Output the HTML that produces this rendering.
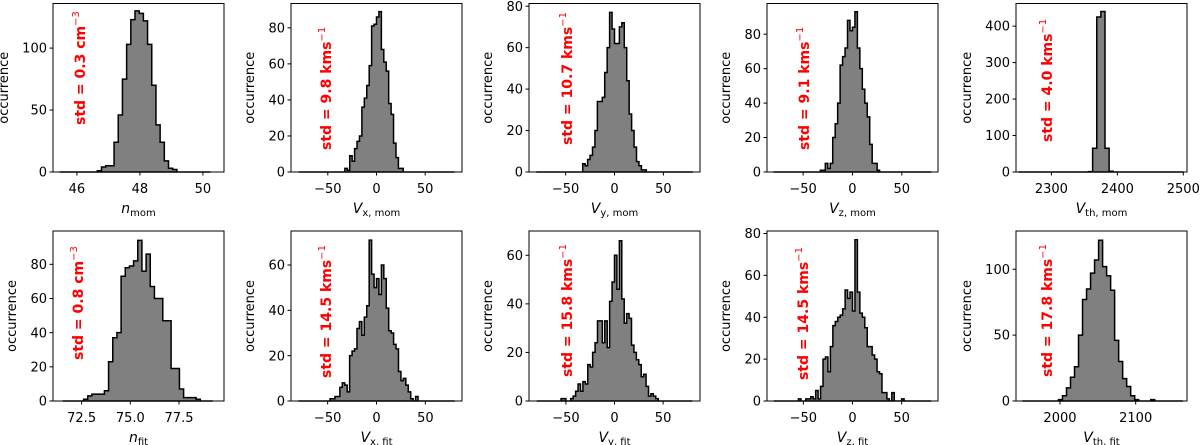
<!DOCTYPE html>
<html><head><meta charset="utf-8">
<style>
html,body{margin:0;padding:0;background:#fff;}
svg{display:block;font-family:"DejaVu Sans","Liberation Sans",sans-serif;}
</style></head>
<body>
<svg id="fig" width="1200" height="445" viewBox="0 0 1200 445" xmlns="http://www.w3.org/2000/svg"></svg>
<script>
// ---- data per panel ----
const p1Counts = [0,0,0,0,0,0,0,0,0,1,4,5,5,24,46,75,103,123,130,128,122,103,70,38,24,9,3,2,0,0,0,0,0,0,0,0];
const p2Counts = [0,0,0,0,0,0,0,0,0,0,0,0,0,0,0,0,0,0,0,2,1,9,6,13,17,20,36,41,48,59,81,82,86,89,68,61,56,38,32,16,8,2,2,0,0,0,0,0,0,0,0,0,0,0,0,0,0,0,0,0,0,0,0,0];
const p3Counts = [0,0,0,0,0,0,0,0,0,0,0,0,0,0,0,0,0,0,0,4,3,6,8,12,20,34,34,36,48,60,77,69,62,62,70,72,60,44,28,20,12,5,3,1,1,0,0,0,0,0,0,0,0,0,0,0,0,0,0,0,0,0,0,0];
const p4Counts = [0,0,0,0,0,0,0,0,0,0,0,0,0,0,0,0,0,0,0,1,1,5,2,5,20,28,40,62,67,72,88,82,84,93,72,60,48,40,32,16,5,5,1,0,0,0,0,0,0,0,0,0,0,0,0,0,0,0,0,0,0,0,0,0];
const p5Counts = [0,0,0,0,0,0,0,0,0,0,0,0,0,0,0,0,0,1,65,425,440,65,2,0,0,0,0,0,0,0,0,0,0,0,0,0,0,0,0,0];
const p6Counts = [0,0,0,0,0,1,3,4,4,4,6,23,37,40,73,78,79,82,94,76,86,67,60,60,47,47,19,19,7,2,2,2,1,0,0,0];
const p7Counts = [0,0,0,0,0,0,0,0,0,0,0,0,0,1,1,2,2,6,8,7,4,20,22,23,32,35,29,37,42,71,56,50,54,47,60,54,41,31,30,25,23,13,9,10,7,4,1,0,2,0,0,0,0,0,0,0,0,0,0,0,0,0,0,0];
const p8Counts = [0,0,0,0,0,0,0,0,0,0,1,1,0,0,1,2,4,7,4,8,7,15,14,20,24,33,33,24,33,22,41,49,60,46,66,42,32,36,34,23,20,17,15,10,11,6,2,3,2,1,0,0,0,0,0,0,0,0,0,0,0,0,0,0];
const p9Counts = [0,0,0,0,0,0,0,0,0,0,1,0,0,1,1,2,1,5,1,7,20,21,14,26,36,38,40,41,44,53,49,52,43,77,52,42,40,35,26,26,22,20,14,13,4,4,1,0,4,0,0,0,1,0,0,0,0,0,0,0,0,0,0,0];
const p10Counts = [0,0,0,0,0,0,0,0,0,1,4,10,18,26,50,77,85,97,107,122,102,95,84,46,30,17,11,4,1,0,0,0,1,0,0,0,0,0,0,0];

const binLo = [45.45, -80, -80, -80, 2250, 71.53, -80, -80, -80, 1950.3];
const binW  = [0.133, 2.5, 2.5, 2.5, 6.25, 0.214, 2.5, 2.5, 2.5, 5.3];
const xTicks = [[46,48,50],[-50,0,50],[-50,0,50],[-50,0,50],[2300,2400,2500],[72.5,75,77.5],[-50,0,50],[-50,0,50],[-50,0,50],[2000,2100]];
const xTickLabels = [["46","48","50"],["\u221250","0","50"],["\u221250","0","50"],["\u221250","0","50"],["2300","2400","2500"],["72.5","75.0","77.5"],["\u221250","0","50"],["\u221250","0","50"],["\u221250","0","50"],["2000","2100"]];
const yTicks = [[0,50,100],[0,20,40,60,80],[0,20,40,60,80],[0,20,40,60,80],[0,100,200,300,400],[0,20,40,60,80],[0,20,40,60],[0,20,40,60],[0,20,40,60,80],[0,50,100]];
const xRange = [[45.24,50.67],[-87.8,87.8],[-87.4,87.4],[-86.6,86.7],[2246.3,2505.6],[71.03,79.81],[-87.5,87.5],[-88,88],[-87,87],[1941.9,2167.8]];
const yMax = [136,93.5,81.3,97.8,462,99.5,75,70,81.2,129];
const stdLabels = ["std = 0.3 cm","std = 9.8 kms","std = 10.7 kms","std = 9.1 kms","std = 4.0 kms","std = 0.8 cm","std = 14.5 kms","std = 15.8 kms","std = 14.5 kms","std = 17.8 kms"];
const stdSup = ["\u22123","\u22121","\u22121","\u22121","\u22121","\u22123","\u22121","\u22121","\u22121","\u22121"];
const xMain = ["n","V","V","V","V","n","V","V","V","V"];
const xSub = ["mom","x, mom","y, mom","z, mom","th, mom","fit","x, fit","y, fit","z, fit","th, fit"];
const allCounts = [p1Counts,p2Counts,p3Counts,p4Counts,p5Counts,p6Counts,p7Counts,p8Counts,p9Counts,p10Counts];

// ---- layout ----
const axLeft = [53,291,529,767,1016];
const axW = 171;
const rowTop = [3.5,231];
const rowBot = [172,401];
const stdPos = [[80,125],[326,150],[567,145],[804,150],[1047,142],[78,360],[326,378],[567,377],[803,380],[1047,377]];

const NS = "http://www.w3.org/2000/svg";
const fig = document.getElementById('fig');
function mk(tag, attrs, parent){
  const e = document.createElementNS(NS, tag);
  for (const k in attrs) e.setAttribute(k, attrs[k]);
  (parent||fig).appendChild(e);
  return e;
}

for (let i=0;i<10;i++){
  const row = i<5?0:1, col = i%5;
  const L = axLeft[col], R = L+axW, T = rowTop[row], B = rowBot[row];
  const xs = v => L + (v - xRange[i][0])/(xRange[i][1]-xRange[i][0])*axW;
  const ys = v => B - v/yMax[i]*(B-T);
  const g = mk('g',{});
  
  

  const c = allCounts[i], lo = binLo[i], w = binW[i];
  let d = 'M'+xs(lo).toFixed(2)+','+ys(0).toFixed(2);
  for (let k=0;k<c.length;k++){
    const x0 = xs(lo+k*w), x1 = xs(lo+(k+1)*w), y = ys(c[k]);
    d += ' L'+x0.toFixed(2)+','+y.toFixed(2)+' L'+x1.toFixed(2)+','+y.toFixed(2);
  }
  d += ' L'+xs(lo+c.length*w).toFixed(2)+','+ys(0).toFixed(2)+' Z';
  const h = mk('path',{d:d, fill:'#808080', stroke:'#000', 'stroke-width':1.5, 'stroke-linejoin':'miter'}, g);
  
  

  const fr = mk('rect',{x:L,y:T,width:axW,height:B-T,fill:'none',stroke:'#000','stroke-width':1}, g);
  
  

  xTicks[i].forEach((t,j)=>{
    const x = xs(t);
    mk('line',{x1:x,x2:x,y1:B,y2:B+3.5,stroke:'#000','stroke-width':1}, g);
    const tl = mk('text',{x:x,y:B+21,'text-anchor':'middle','font-size':13,fill:'#000'}, g);
    tl.textContent = xTickLabels[i][j];
    
    
  });
  let maxLen = 1;
  yTicks[i].forEach(t=>{
    const y = ys(t);
    mk('line',{x1:L-3.5,x2:L,y1:y,y2:y,stroke:'#000','stroke-width':1}, g);
    const tl = mk('text',{x:L-6,y:y+4.6,'text-anchor':'end','font-size':13,fill:'#000'}, g);
    tl.textContent = String(t);
    maxLen = Math.max(maxLen, String(t).length);
    
    
  });
  const yl_x = L - (maxLen>=3 ? 45 : 37);
  const yc = (T+B)/2;
  const yl = mk('text',{x:yl_x,y:yc,'text-anchor':'middle','font-size':13,fill:'#000',transform:'rotate(-90 '+yl_x+' '+yc+')'}, g);
  yl.textContent = 'occurrence';
  
  

  const xl = mk('text',{x:(L+R)/2,y:B+41,'text-anchor':'middle','font-size':14,fill:'#000'}, g);
  const t1 = mk('tspan',{'font-style':'italic'}, xl); t1.textContent = xMain[i];
  const t2 = mk('tspan',{'font-size':10,dy:3}, xl); t2.textContent = xSub[i];
  
  

  const sx = stdPos[i][0]+5, sy = stdPos[i][1];
  const st = mk('text',{x:sx,y:sy,'font-size':14,'font-weight':'bold',fill:'#ff0000',transform:'rotate(-90 '+sx+' '+sy+')'}, g);
  const s1 = mk('tspan',{}, st); s1.textContent = stdLabels[i];
  const s2 = mk('tspan',{'font-size':10,dy:-6,'font-weight':'normal'}, st); s2.textContent = stdSup[i];
  
  
}
</script>
</body></html>
